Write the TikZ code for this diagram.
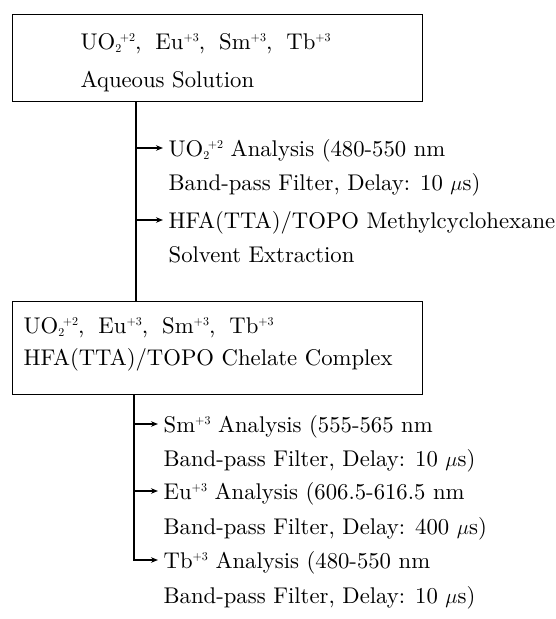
\documentclass[tikz,border=0pt]{standalone}
\usepackage{fontspec}
\setmainfont{lmroman10-regular.otf}
\usetikzlibrary{arrows.meta}
\newcommand\supx[1]{\raisebox{7.5pt}{\fontsize{12}{12}\selectfont #1}}
\newcommand\chgion[2]{#1\supx{#2}}
\newcommand\uranyl{UO\rlap{\raisebox{-3.5pt}{\fontsize{12}{12}\selectfont 2}}\kern4.5pt\supx{+2}}
\newcommand\ionlist{\uranyl,\hspace{14pt}\chgion{Eu}{+3},\hspace{14pt}\chgion{Sm}{+3},\hspace{14pt}\chgion{Tb}{+3}}
\begin{document}
\begin{tikzpicture}[x=1pt,y=-1pt,line width=1.3pt,
  txt/.style={anchor=base west,inner sep=0pt,font=\fontsize{22.7}{27}\selectfont},
  boxnode/.style={draw,anchor=north west,inner sep=0pt},
  arr/.style={-{Stealth[length=7pt,width=5.5pt]},shorten >=5pt}]
\useasboundingbox (0,0) rectangle (556,619);
% boxes
\node[boxnode,minimum width=410pt,minimum height=87pt] (box1) at (12,14) {};
\node[boxnode,minimum width=410pt,minimum height=93pt] (box2) at (12,301) {};
% box texts
\node[txt] (b1a) at (80,49) {\ionlist};
\node[txt] (b1b) at (80,87) {Aqueous Solution};
\node[txt] (b2a) at (23,333) {\ionlist};
\node[txt] (b2b) at (23,365) {HFA(TTA)/TOPO Chelate Complex};
% upper branch texts
\node[txt] (u1) at (168,156) {\uranyl{} Analysis (480-550 nm};
\node[txt] (u1b) at (168,190) {Band-pass Filter, Delay: 10 $\mu$s)};
\node[txt] (u2) at (168,228) {HFA(TTA)/TOPO Methylcyclohexane};
\node[txt] (u2b) at (168,262) {Solvent Extraction};
% lower branch texts
\node[txt] (l1) at (163,432) {\chgion{Sm}{+3} Analysis (555-565 nm};
\node[txt] (l1b) at (163,466) {Band-pass Filter, Delay: 10 $\mu$s)};
\node[txt] (l2) at (163,499) {\chgion{Eu}{+3} Analysis (606.5-616.5 nm};
\node[txt] (l2b) at (163,534) {Band-pass Filter, Delay: 400 $\mu$s)};
\node[txt] (l3) at (163,568) {\chgion{Tb}{+3} Analysis (480-550 nm};
\node[txt] (l3b) at (163,603) {Band-pass Filter, Delay: 10 $\mu$s)};
% arrow target points
\coordinate (pu1) at ([yshift=8pt]u1.base west);
\coordinate (pu2) at ([yshift=8pt]u2.base west);
\coordinate (pl1) at ([yshift=8pt]l1.base west);
\coordinate (pl2) at ([yshift=8pt]l2.base west);
\coordinate (pl3) at ([yshift=8pt]l3.base west);
% upper trunk
\coordinate (tr1) at (136,0);
\draw (tr1 |- box1.south) -- (tr1 |- box2.north);
\draw[arr] (tr1 |- pu1) -- (pu1);
\draw[arr] (tr1 |- pu2) -- (pu2);
% lower trunk
\coordinate (tr2) at (134,0);
\draw[arr] (tr2 |- box2.south) -- (tr2 |- pl3) -- (pl3);
\draw[arr] (tr2 |- pl1) -- (pl1);
\draw[arr] (tr2 |- pl2) -- (pl2);
\end{tikzpicture}
\end{document}
